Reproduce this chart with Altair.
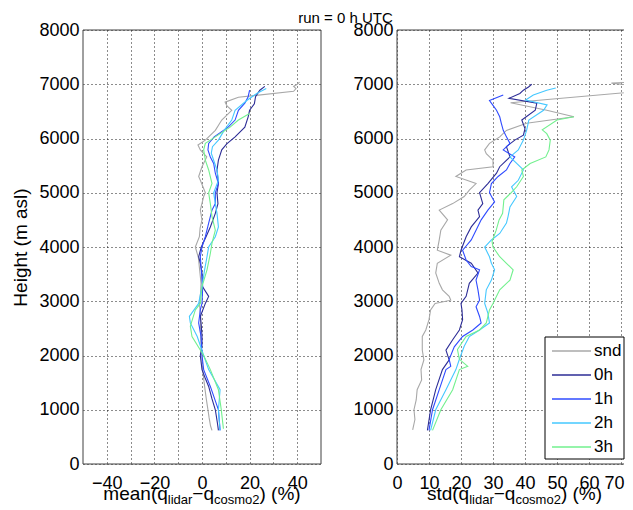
import altair as alt
import pandas as pd

FONT = "Liberation Sans"
SERIES = ["snd", "0h", "1h", "2h", "3h"]
COLORS = ["#a8a8a8", "#2c2c96", "#2f4bff", "#45c8ff", "#72f08e"]

# ---------------- left panel: mean(q_lidar - q_cosmo2) (%) ----------------
mean_snd_h = [620, 700, 850, 1000, 1200, 1430, 1650, 1860, 2000, 2200, 2470, 2700, 2960, 3150, 3330,
              3580, 3800, 4000, 4190, 4350, 4500, 4680, 4930, 5000, 5230, 5300, 5480, 5660, 5790,
              5880, 5970, 6150, 6340, 6520, 6600, 6670, 6760, 6870, 6920, 6960, 7000, 7040]
mean_snd_v = [4.2, 3.6, 3.0, 2.5, 1.8, 1.1, 0.5, 0.0, 0.0, -0.4, -0.7, -0.5, -1.1, -0.6, -0.4,
              -1.0, -1.5, -2.8, -1.1, -0.8, 0.0, -0.7, 0.7, 1.4, -0.7, -1.4, 0.0, 2.0, -0.7,
              -1.7, 1.4, 5.6, 8.3, 12.5, 10.5, 9.7, 15.3, 38.5, 39.5, 38.5, 40.0, 41.0]

mean_0h_h = [620, 750, 1000, 1200, 1430, 1600, 1740, 2000, 2200, 2350, 2550, 2720, 2960, 3090, 3270,
             3520, 3700, 3820, 4000, 4190, 4370, 4620, 4800, 5000, 5170, 5420, 5600, 5790, 5900,
             6030, 6210, 6400, 6520, 6640, 6770, 6890, 6960]
mean_0h_v = [6.9, 6.5, 5.6, 4.2, 2.8, 1.2, 0.0, -0.7, 0.0, 0.0, -0.3, -0.7, 1.4, 2.8, 0.2,
             0.0, -0.7, -1.4, -0.3, 1.7, 3.5, 5.6, 6.7, 6.3, 6.9, 6.3, 6.9, 8.3, 10.4,
             13.9, 18.0, 19.4, 20.0, 22.0, 22.5, 24.3, 26.4]

mean_1h_h = [620, 1000, 1430, 1740, 2000, 2350, 2600, 2840, 2960, 3270, 3580, 3820, 4000, 4190, 4440,
             4680, 4800, 5000, 5170, 5360, 5540, 5660, 5790, 5910, 6030, 6210, 6340, 6520, 6650,
             6770, 6890]
mean_1h_v = [7.6, 6.9, 3.5, 0.7, 0.0, -0.4, -1.4, -0.7, 0.0, 0.3, -0.3, -0.7, 0.0, 1.4, 2.8,
             4.2, 5.6, 5.6, 6.9, 5.6, 4.9, 3.5, 2.5, 2.8, 5.1, 11.0, 13.9, 15.3, 18.0,
             19.4, 20.0]

mean_2h_h = [620, 1000, 1370, 1740, 2000, 2350, 2600, 2720, 2960, 3270, 3580, 3820, 4000, 4190, 4370,
             4620, 4800, 5000, 5230, 5420, 5600, 5730, 5850, 5970, 6150, 6340, 6520, 6700, 6830, 6920]
mean_2h_v = [7.6, 6.9, 7.6, 2.8, 0.7, -2.0, -4.9, -5.3, -1.4, 0.0, 1.1, 2.1, 2.8, 5.6, 6.9,
             6.3, 5.6, 4.9, 6.9, 6.3, 4.9, 3.9, 4.4, 6.9, 9.3, 12.5, 13.9, 18.8, 23.0, 27.0]

mean_3h_h = [650, 1000, 1370, 1740, 2000, 2350, 2540, 2840, 2960, 3270, 3580, 3880, 4070, 4310, 4560,
             4800, 5000, 5170, 5420, 5600, 5790, 5910, 6030, 6210, 6340, 6460]
mean_3h_v = [9.0, 8.1, 6.9, 3.5, 0.7, -4.2, -4.9, -2.8, -0.7, 0.0, 2.1, 3.5, 4.2, 5.6, 4.2,
             3.5, 2.8, 4.2, 2.8, 1.4, 0.7, 1.4, 5.6, 11.8, 15.3, 20.0]

# ---------------- right panel: std(q_lidar - q_cosmo2) (%) ----------------
std_snd_h = [630, 820, 1000, 1180, 1370, 1550, 1740, 1920, 2100, 2350, 2470, 2660, 2840, 2960, 3020,
             3090, 3210, 3330, 3520, 3700, 3850, 3940, 4130, 4310, 4500, 4680, 4800, 4930, 5050,
             5170, 5300, 5420, 5480, 5600, 5720, 5790, 5910, 6030, 6150, 6280, 6400, 6520, 6660,
             6870, 6950, 7000, 7020, 7035, 7045]
std_snd_v = [4.9, 5.6, 5.3, 6.0, 6.3, 7.7, 7.5, 8.4, 7.9, 7.9, 9.0, 10.0, 10.5, 11.9, 16.8,
             16.3, 14.2, 13.2, 12.1, 12.6, 16.8, 12.6, 13.2, 13.7, 15.8, 13.2, 17.4, 21.0, 22.6,
             24.7, 18.4, 21.6, 30.0, 30.0, 27.9, 27.4, 28.9, 32.1, 34.2, 40.5, 55.3, 46.8, 35.5,
             76.0, 80.0, 70.0, 67.0, 72.0, 80.0]

std_0h_h = [620, 1000, 1370, 1740, 1920, 2100, 2290, 2470, 2660, 2840, 2960, 3090, 3330, 3520, 3700,
            3820, 3940, 4190, 4370, 4560, 4680, 4800, 5000, 5170, 5360, 5480, 5660, 5850, 5970,
            6060, 6180, 6340, 6520, 6650, 6740, 6830, 6890, 6950, 7000]
std_0h_v = [9.5, 10.5, 12.1, 14.2, 16.3, 15.3, 17.4, 19.5, 20.5, 20.3, 20.0, 21.6, 22.6, 25.3, 23.2,
            19.5, 20.0, 21.6, 23.2, 25.8, 25.3, 26.8, 25.8, 28.4, 31.1, 32.1, 35.3, 34.2, 36.8,
            39.5, 40.0, 39.0, 43.2, 43.7, 35.0, 38.4, 39.5, 41.1, 42.1]

std_1h_h = [620, 1000, 1370, 1740, 1800, 1930, 2160, 2350, 2470, 2600, 2720, 2900, 3020, 3210, 3390,
            3580, 3640, 3760, 3940, 4130, 4310, 4500, 4680, 4830, 5000, 5170, 5300, 5420, 5540,
            5660, 5790, 5910, 6030, 6150, 6280, 6400, 6520, 6610, 6700, 6800]
std_1h_v = [10.0, 11.1, 13.2, 15.3, 16.8, 16.3, 17.9, 20.5, 23.7, 26.3, 25.8, 24.7, 25.8, 25.3, 24.7,
            25.8, 23.2, 21.6, 20.5, 23.2, 24.7, 26.3, 28.4, 30.5, 28.9, 29.5, 31.6, 34.2, 35.3,
            36.8, 33.2, 35.3, 34.2, 33.2, 32.6, 32.1, 31.1, 30.0, 28.9, 33.2]

std_2h_h = [620, 1000, 1370, 1740, 1930, 2170, 2350, 2470, 2600, 2780, 2960, 3210, 3390, 3580, 3700,
            3820, 4000, 4130, 4250, 4440, 4560, 4740, 4930, 5110, 5230, 5420, 5540, 5660, 5790,
            5970, 6150, 6340, 6520, 6620, 6710, 6800, 6890, 6930]
std_2h_v = [10.5, 12.1, 15.3, 18.4, 19.5, 21.0, 22.6, 25.8, 28.9, 28.4, 27.4, 27.9, 29.5, 30.5, 29.5,
            28.9, 27.4, 29.5, 32.1, 34.2, 34.7, 35.3, 37.4, 35.8, 37.9, 39.5, 37.4, 35.3, 37.9,
            39.5, 40.5, 41.2, 45.8, 46.9, 40.2, 42.6, 46.8, 49.6]

std_3h_h = [620, 1000, 1370, 1740, 1800, 1930, 2110, 2350, 2470, 2600, 2840, 2960, 3090, 3210, 3390,
            3580, 3700, 3820, 4000, 4100, 4310, 4500, 4620, 4870, 4990, 5110, 5300, 5420, 5540,
            5660, 5790, 5970, 6090, 6160, 6340, 6400]
std_3h_v = [11.1, 13.7, 17.4, 19.5, 22.1, 19.5, 18.9, 21.6, 25.8, 27.9, 28.9, 30.0, 31.1, 32.1, 35.3,
            36.3, 34.2, 32.1, 30.0, 29.7, 31.0, 31.9, 33.0, 33.4, 35.5, 37.4, 39.5, 39.0, 41.6,
            46.5, 47.5, 47.9, 46.8, 45.4, 50.0, 55.3]

Y_TICKS = [0, 1000, 2000, 3000, 4000, 5000, 6000, 7000, 8000]
LEFT_GRID = [-40, -30, -20, -10, 0, 10, 20, 30, 40]
RIGHT_TICKS = [0, 10, 20, 30, 40, 50, 60, 70]
TITLE = "run = 0 h UTC"


def frame(pairs):
    rows = []
    for name, hs, vs in pairs:
        for h, v in zip(hs, vs):
            rows.append({"series": name, "h": h, "v": v})
    return pd.DataFrame(rows)


mean_df = frame([("snd", mean_snd_h, mean_snd_v), ("0h", mean_0h_h, mean_0h_v),
                 ("1h", mean_1h_h, mean_1h_v), ("2h", mean_2h_h, mean_2h_v),
                 ("3h", mean_3h_h, mean_3h_v)])
std_df = frame([("snd", std_snd_h, std_snd_v), ("0h", std_0h_h, std_0h_v),
                ("1h", std_1h_h, std_1h_v), ("2h", std_2h_h, std_2h_v),
                ("3h", std_3h_h, std_3h_v)])

W_LEFT, W_RIGHT, H = 238, 227, 434
GAP = 76
ONE = pd.DataFrame({"k": [0]})

# Liberation Sans advance widths (em) for the axis-title characters
ADV = {"m": .833, "e": .556, "a": .556, "n": .556, "(": .333, ")": .333, "q": .556, "l": .222,
       "i": .222, "d": .556, "r": .333, "\u2212": .584, "c": .5, "o": .556, "s": .5, "2": .556,
       " ": .278, "%": .889, "t": .278}
BIG, SMALL = 19, 13


def text_at(s, x, y, size, align="left", baseline="alphabetic"):
    return alt.Chart(pd.DataFrame({"t": [s]})).mark_text(
        font=FONT, fontSize=size, align=align, baseline=baseline, color="black"
    ).encode(x=alt.value(x), y=alt.value(y), text="t:N")


def xtitle(head, center):
    segs = [(head, BIG, 0), ("lidar", SMALL, 4), ("\u2212q", BIG, 0), ("cosmo2", SMALL, 4), (") (%)", BIG, 0)]
    widths = [sum(ADV.get(c, .556) for c in s) * size for s, size, _ in segs]
    x = center - sum(widths) / 2
    layers = []
    for (s, size, dy), w in zip(segs, widths):
        layers.append(text_at(s, x, H + 36 + dy, size))
        x += w
    return layers


def rule(x1, x2, y1, y2):
    return alt.Chart(ONE).mark_rule(color="#404040", strokeWidth=1).encode(
        x=alt.value(x1), x2=alt.value(x2), y=alt.value(y1), y2=alt.value(y2))


color_scale = alt.Scale(domain=SERIES, range=COLORS)

yaxis_left = alt.Axis(values=Y_TICKS, format="d", title="Height (m asl)", titleFont=FONT,
                      titleFontSize=19, titleFontWeight="normal", titleColor="black", titlePadding=8.5)
yaxis_right = alt.Axis(values=Y_TICKS, format="d", title=None)

left_lines = alt.Chart(mean_df).mark_line(strokeWidth=1.1, clip=True).encode(
    x=alt.X("v:Q", scale=alt.Scale(domain=[-50, 50], nice=False, zero=False),
            axis=alt.Axis(values=LEFT_GRID, title=None,
                          labelExpr="datum.value % 20 == 0 ? datum.label : ''")),
    y=alt.Y("h:Q", scale=alt.Scale(domain=[0, 8000], nice=False), axis=yaxis_left),
    color=alt.Color("series:N", scale=color_scale, legend=None),
    order=alt.Order("h:Q"),
    detail="series:N",
)

right_lines = alt.Chart(std_df).mark_line(strokeWidth=1.1, clip=True).encode(
    x=alt.X("v:Q", scale=alt.Scale(domain=[0, W_RIGHT / 3.2], nice=False, zero=False),
            axis=alt.Axis(values=RIGHT_TICKS, title=None,
                          labelAlign={"condition": {"test": "datum.value == 70", "value": "right"},
                                      "value": "center"},
                          labelOffset={"condition": {"test": "datum.value == 70", "value": 3},
                                       "value": 0})),
    y=alt.Y("h:Q", scale=alt.Scale(domain=[0, 8000], nice=False), axis=yaxis_right),
    color=alt.Color("series:N", scale=color_scale, legend=None),
    order=alt.Order("h:Q"),
    detail="series:N",
)

# legend box drawn inside the right panel
LX, LY, LW, LH, ROW = 148, 307, 79, 122, 24
legend_layers = [
    alt.Chart(ONE).mark_rect(fill="white", stroke="black", strokeWidth=1).encode(
        x=alt.value(LX), x2=alt.value(LX + LW), y=alt.value(LY), y2=alt.value(LY + LH))
]
for i, (name, col) in enumerate(zip(SERIES, COLORS)):
    yy = LY + 14 + ROW * i
    legend_layers.append(
        alt.Chart(ONE).mark_rule(color=col, strokeWidth=1.3).encode(
            x=alt.value(LX + 7), x2=alt.value(LX + 46), y=alt.value(yy)))
    legend_layers.append(text_at(name, LX + 49, yy, 17, baseline="middle"))

left_frame = [rule(0, W_LEFT, 0, 0), rule(0, W_LEFT, H, H), rule(0, 0, 0, H), rule(W_LEFT, W_LEFT, 0, H)]
right_frame = [rule(0, W_RIGHT, 0, 0), rule(0, W_RIGHT, H, H), rule(0, 0, 0, H)]

left = alt.layer(left_lines, *left_frame, *xtitle("mean(q", W_LEFT / 2)).properties(
    width=W_LEFT, height=H)
right = alt.layer(right_lines, *right_frame, *legend_layers,
                  *xtitle("std(q", 117.5),
                  text_at(TITLE, 346.5 - (84 + W_LEFT + GAP), -7, 15, align="center")).properties(
    width=W_RIGHT, height=H)

chart = alt.hconcat(left, right, spacing=GAP, bounds="flush").properties(
    padding={"left": 3, "top": 3, "right": 0, "bottom": -2},
).configure_axis(
    grid=True, gridColor="black", gridDash=[1, 3], gridOpacity=0.9, gridWidth=1,
    domain=False, ticks=False, labelFont=FONT, labelFontSize=18, labelColor="black",
    labelPadding=4,
).configure_axisX(labelPadding=10).configure_view(stroke=None)

chart.save("out.html", embed_options={"renderer": "svg", "actions": False})
